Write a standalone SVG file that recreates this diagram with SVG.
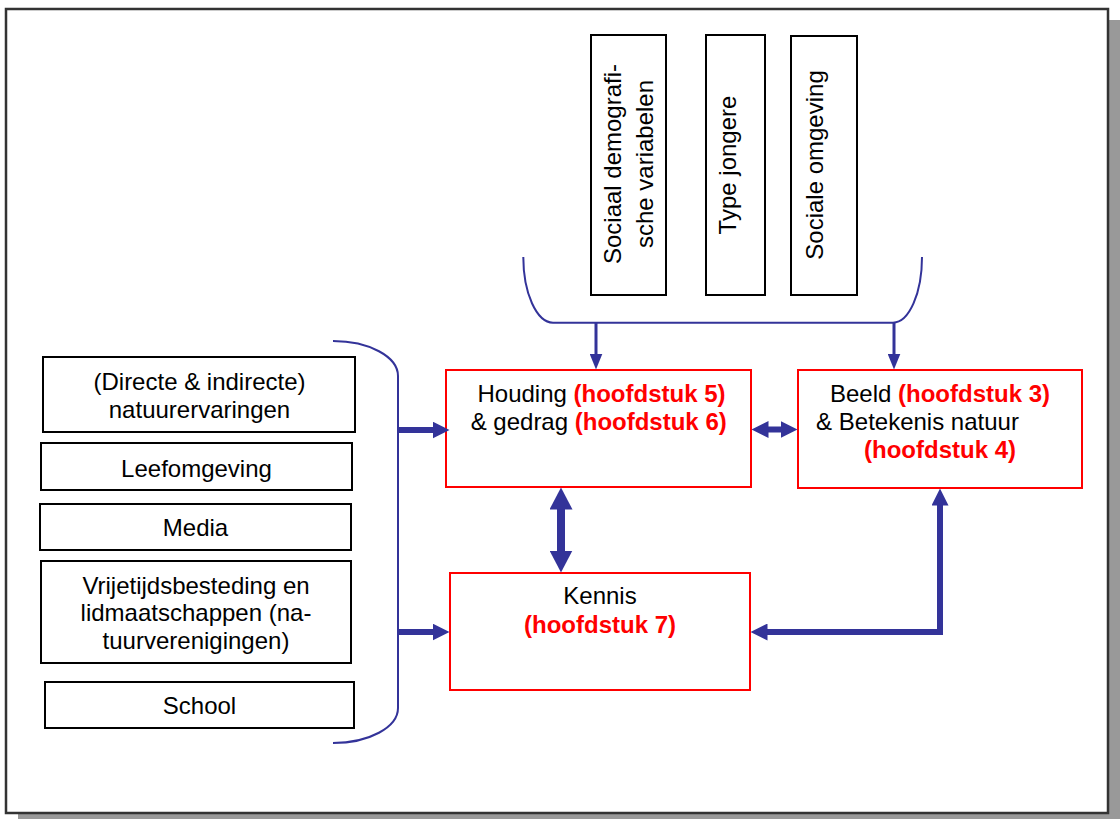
<svg xmlns="http://www.w3.org/2000/svg" width="1120" height="819" viewBox="0 0 1120 819">
<style>
.t{font-family:"Liberation Sans",Arial,sans-serif;font-size:24px;fill:#000}
.r{font-weight:bold;fill:#ff0000}
.bx{fill:#fff;stroke:#000;stroke-width:2}
.rb{fill:#fff;stroke:#ff0000;stroke-width:2}
.br{fill:none;stroke:#333399;stroke-width:2}
.ar{fill:none;stroke:#333399}
</style>
<defs>
<marker id="sm" markerUnits="userSpaceOnUse" markerWidth="16" markerHeight="13" refX="0.5" refY="6.5" orient="auto-start-reverse" viewBox="0 0 16 13"><path d="M0,0 L16,6.5 L0,13 Z" fill="#333399"/></marker>
<marker id="md" markerUnits="userSpaceOnUse" markerWidth="17" markerHeight="17" refX="0.5" refY="8.5" orient="auto-start-reverse" viewBox="0 0 17 17"><path d="M0,0 L17,8.5 L0,17 Z" fill="#333399"/></marker>
<marker id="bg" markerUnits="userSpaceOnUse" markerWidth="22" markerHeight="23" refX="0.5" refY="11.5" orient="auto-start-reverse" viewBox="0 0 22 23"><path d="M0,0 L22,11.5 L0,23 Z" fill="#333399"/></marker>
</defs>
<rect x="0" y="0" width="1120" height="819" fill="#fff"/>
<rect x="18" y="20" width="1102" height="799" fill="#999"/>
<rect x="6" y="9" width="1102" height="804" fill="#fff" stroke="#333" stroke-width="2.5"/>

<g id="sociaal"><rect class="bx" x="591" y="35" width="75" height="260"/>
<text class="t" transform="translate(620.5,164) rotate(-90)" text-anchor="middle"><tspan x="0" y="0">Sociaal demografi-</tspan><tspan x="0" dy="32.7">sche variabelen</tspan></text></g>
<g id="type"><rect class="bx" x="706" y="35" width="59" height="260"/>
<text class="t" transform="translate(736,165) rotate(-90)" text-anchor="middle">Type jongere</text></g>
<g id="sociale"><rect class="bx" x="791" y="36" width="66" height="259"/>
<text class="t" transform="translate(822.5,165) rotate(-90)" text-anchor="middle">Sociale omgeving</text></g>

<g id="natuurervaringen"><rect class="bx" x="43" y="357" width="312" height="75"/>
<text class="t" text-anchor="middle"><tspan x="199.5" y="390">(Directe &amp; indirecte)</tspan><tspan x="199.5" y="417.5">natuurervaringen</tspan></text></g>
<g id="leefomgeving"><rect class="bx" x="41" y="443" width="311" height="47"/>
<text class="t" x="196.5" y="476.5" text-anchor="middle">Leefomgeving</text></g>
<g id="media"><rect class="bx" x="40" y="504" width="311" height="46"/>
<text class="t" x="195.5" y="535.5" text-anchor="middle">Media</text></g>
<g id="vrijetijd"><rect class="bx" x="41" y="561" width="310" height="102"/>
<text class="t" text-anchor="middle"><tspan x="196" y="593.5">Vrijetijdsbesteding en</tspan><tspan x="196" y="621">lidmaatschappen (na-</tspan><tspan x="196" y="648.5">tuurverenigingen)</tspan></text></g>
<g id="school"><rect class="bx" x="45" y="682" width="309" height="46"/>
<text class="t" x="199.5" y="713.5" text-anchor="middle">School</text></g>

<g id="houding"><rect class="rb" x="446" y="370" width="305" height="117"/>
<text class="t" text-anchor="middle"><tspan x="601.5" y="401.5">Houding <tspan class="r">(hoofdstuk 5)</tspan></tspan><tspan x="598.7" y="430">&amp; gedrag <tspan class="r">(hoofdstuk 6)</tspan></tspan></text></g>
<g id="beeld"><rect class="rb" x="798" y="370" width="284" height="118"/>
<text class="t" text-anchor="middle"><tspan x="940" y="401.5">Beeld <tspan class="r">(hoofdstuk 3)</tspan></tspan><tspan x="917.5" y="430">&amp; Betekenis natuur</tspan><tspan class="r" x="940" y="457.5">(hoofdstuk 4)</tspan></text></g>
<g id="kennis"><rect class="rb" x="450" y="573" width="300" height="117"/>
<text class="t" text-anchor="middle"><tspan x="600" y="604">Kennis</tspan><tspan class="r" x="600" y="632.5">(hoofdstuk 7)</tspan></text></g>

<g id="connectors">
<path class="br" d="M333,341 A65,35 0 0 1 398,376 V708 A65,35 0 0 1 333,743"/>
<path class="br" d="M523.3,257 A30,65.7 0 0 0 553,322.7 H893 A29,65.7 0 0 0 922,257"/>
<path class="ar" stroke-width="3" d="M596,323 V354" marker-end="url(#sm)"/>
<path class="ar" stroke-width="3" d="M894,323 V354" marker-end="url(#sm)"/>
<path class="ar" stroke-width="6" d="M398,430 H433" marker-end="url(#md)"/>
<path class="ar" stroke-width="6" d="M398,632 H433" marker-end="url(#md)"/>
<path class="ar" stroke-width="6" d="M768,429.5 H781" marker-start="url(#md)" marker-end="url(#md)"/>
<path class="ar" stroke-width="8" d="M561,509 V551" marker-start="url(#bg)" marker-end="url(#bg)"/>
<path class="ar" stroke-width="6" d="M767,632 H940 V505" marker-start="url(#md)" marker-end="url(#md)"/>
</g>
</svg>
